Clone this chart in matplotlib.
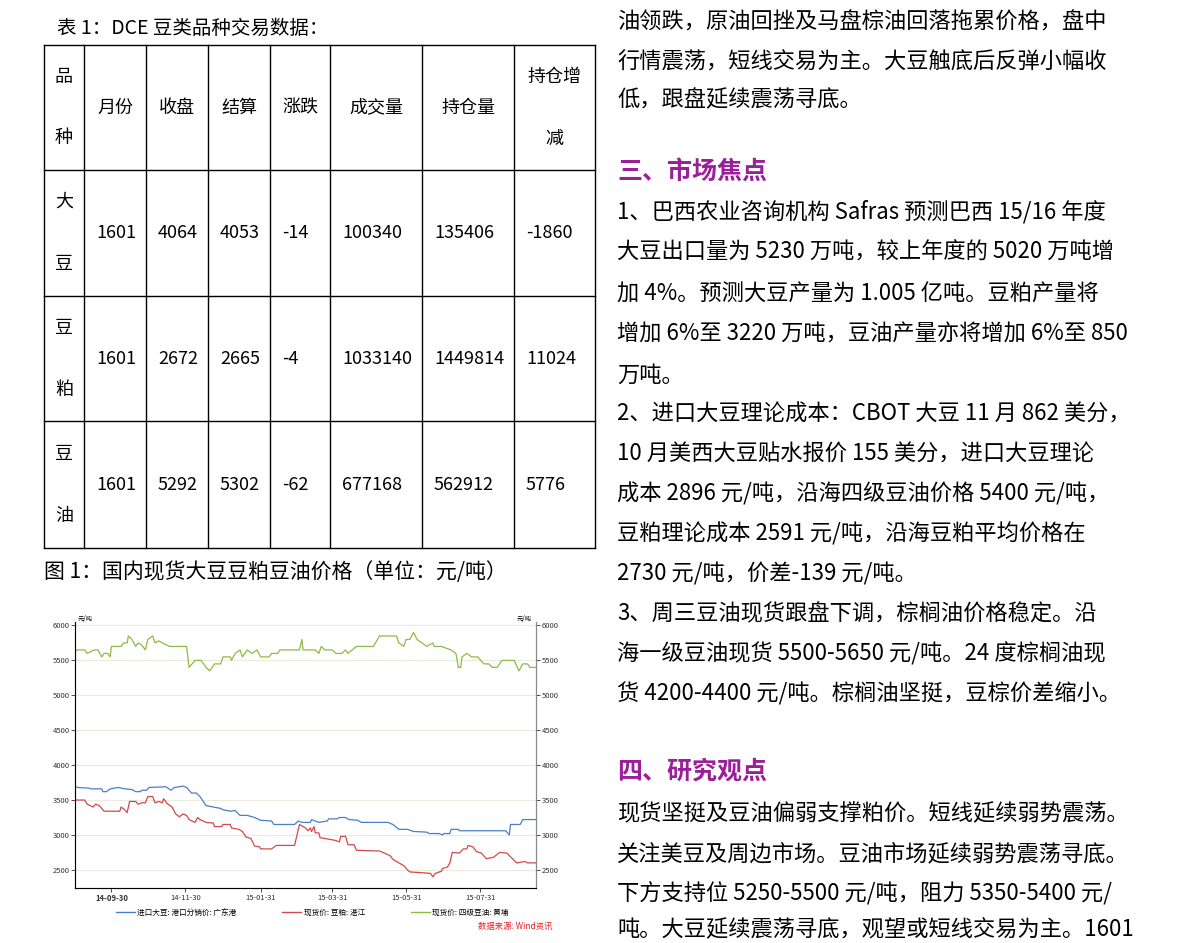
import matplotlib
matplotlib.use("Agg")
import matplotlib.pyplot as plt
import pandas as pd
from matplotlib.lines import Line2D

plt.rcParams['font.family'] = ['Noto Sans CJK SC', 'DejaVu Sans']

# ---------------- data ----------------
table_header = [("品", "种"), "月份", "收盘", "结算", "涨跌", "成交量", "持仓量", ("持仓增", "减")]
products = [("大", "豆"), ("豆", "粕"), ("豆", "油")]
months = ["1601", "1601", "1601"]
close = ["4064", "2672", "5292"]
settle = ["4053", "2665", "5302"]
change = ["-14", "-4", "-62"]
volume = ["100340", "1033140", "677168"]
open_int = ["135406", "1449814", "562912"]
oi_change = ["-1860", "11024", "5776"]

start_date = "2014-08-31"
soy_days = [0,2,12,13,22,23,26,29,36,41,47,50,54,55,59,61,75,79,82,86,89,92,96,100,103,108,114,120,122,128,132,136,142,148,153,162,164,181,184,187,194,195,201,208,209,216,218,223,226,233,236,258,262,267,274,279,290,292,300,303,304,309,310,316,317,355,358,359,367,369,380]
soy_vals = [3700,3680,3670,3660,3660,3620,3620,3660,3680,3660,3650,3620,3620,3640,3640,3680,3690,3640,3680,3690,3700,3680,3600,3600,3550,3420,3400,3380,3360,3340,3350,3280,3280,3250,3210,3200,3150,3150,3200,3180,3180,3220,3180,3200,3230,3230,3250,3250,3220,3210,3180,3180,3150,3080,3080,3050,3040,3020,3020,3000,3020,3020,3080,3080,3060,3060,3000,3150,3150,3220,3220]
meal_days = [0,8,10,15,17,20,22,24,37,38,41,43,45,50,52,55,58,60,64,66,69,72,73,76,80,83,86,89,92,94,99,101,103,108,114,115,121,122,128,129,135,138,141,145,148,152,153,162,166,181,183,185,190,192,194,195,197,198,201,202,206,215,218,219,223,225,230,232,251,255,260,262,267,271,274,276,285,293,295,297,302,303,307,309,311,317,320,323,324,328,331,335,339,345,350,356,360,364,371,373,380]
meal_vals = [3500,3500,3440,3400,3440,3420,3380,3340,3340,3400,3360,3320,3480,3480,3440,3460,3460,3550,3550,3460,3480,3460,3520,3450,3400,3300,3260,3300,3280,3220,3180,3250,3220,3180,3170,3120,3120,3150,3150,3100,3080,3050,2970,2950,2840,2830,2800,2800,2850,2850,3000,3150,3100,3060,3100,3050,3120,3030,3030,2960,2950,2920,2900,2980,2980,2860,2860,2780,2770,2740,2700,2650,2600,2560,2500,2470,2460,2450,2400,2450,2480,2520,2540,2600,2750,2740,2800,2800,2850,2830,2760,2740,2660,2680,2750,2740,2670,2600,2620,2600,2600]
oil_days = [0,1,8,10,16,19,22,24,27,29,30,38,40,43,44,47,50,52,55,58,60,64,66,69,72,78,92,94,99,104,108,111,115,120,122,128,129,132,136,138,142,146,150,153,160,162,167,169,185,187,188,198,201,203,206,212,215,220,223,225,232,246,251,265,267,271,273,276,279,282,286,290,295,296,302,310,314,316,318,319,323,327,332,337,341,344,348,352,362,366,369,373,375,380]
oil_vals = [5600,5650,5650,5600,5650,5650,5550,5600,5600,5550,5700,5700,5750,5750,5850,5800,5700,5750,5720,5650,5800,5850,5750,5780,5750,5700,5700,5400,5500,5500,5400,5350,5450,5450,5550,5550,5500,5600,5650,5550,5650,5600,5650,5550,5550,5600,5600,5650,5650,5800,5650,5650,5600,5700,5650,5650,5600,5600,5650,5600,5700,5700,5850,5850,5750,5700,5800,5800,5900,5800,5750,5700,5750,5700,5700,5650,5600,5400,5400,5550,5600,5550,5550,5450,5450,5400,5400,5500,5500,5350,5450,5450,5400,5400]
xtick_dates = ["2014-09-30", "2014-11-30", "2015-01-31", "2015-03-31", "2015-05-31", "2015-07-31"]
xtick_labels = ["14-09-30", "14-11-30", "15-01-31", "15-03-31", "15-05-31", "15-07-31"]
yticks = [2500, 3000, 3500, 4000, 4500, 5000, 5500, 6000]
legend_labels = ["进口大豆: 港口分销价: 广东港", "现货价: 豆粕: 湛江", "现货价: 四级豆油: 黄埔"]

right_lines = [
    "油领跌，原油回挫及马盘棕油回落拖累价格，盘中",
    "行情震荡，短线交易为主。大豆触底后反弹小幅收",
    "低，跟盘延续震荡寻底。",
    "三、市场焦点",
    "1、巴西农业咨询机构 Safras 预测巴西 15/16 年度",
    "大豆出口量为 5230 万吨，较上年度的 5020 万吨增",
    "加 4%。预测大豆产量为 1.005 亿吨。豆粕产量将",
    "增加 6%至 3220 万吨，豆油产量亦将增加 6%至 850",
    "万吨。",
    "2、进口大豆理论成本：CBOT 大豆 11 月 862 美分，",
    "10 月美西大豆贴水报价 155 美分，进口大豆理论",
    "成本 2896 元/吨，沿海四级豆油价格 5400 元/吨，",
    "豆粕理论成本 2591 元/吨，沿海豆粕平均价格在",
    "2730 元/吨，价差-139 元/吨。",
    "3、周三豆油现货跟盘下调，棕榈油价格稳定。沿",
    "海一级豆油现货 5500-5650 元/吨。24 度棕榈油现",
    "货 4200-4400 元/吨。棕榈油坚挺，豆棕价差缩小。",
    "四、研究观点",
    "现货坚挺及豆油偏弱支撑粕价。短线延续弱势震荡。",
    "关注美豆及周边市场。豆油市场延续弱势震荡寻底。",
    "下方支持位 5250-5500 元/吨，阻力 5350-5400 元/",
    "吨。大豆延续震荡寻底，观望或短线交易为主。1601",
]
right_y = [22,62,100,172,212,252,294,334,375,414,454,494,534,574,614,654,694,772,814,854,894,930]
headings = {"三、市场焦点", "四、研究观点"}

# ---------------- figure ----------------
W, H = 1191, 943
fig = plt.figure(figsize=(W/100, H/100), dpi=100)
fig.patch.set_facecolor("white")

def fx(x): return x / W
def fy(y): return 1 - y / H

fig.text(fx(57), fy(28), "表 1：DCE 豆类品种交易数据：", fontsize=14, va="center", ha="left")
fig.text(fx(44), fy(572), "图 1：国内现货大豆豆粕豆油价格（单位：元/吨）", fontsize=15, va="center", ha="left")

col_b = [44, 84, 146, 208, 270, 330, 422, 514, 595]
row_b = [45, 170, 296, 421, 548]
for x in col_b:
    fig.add_artist(Line2D([fx(x), fx(x)], [fy(row_b[0]), fy(row_b[-1])], color="black", lw=1))
for y in row_b:
    fig.add_artist(Line2D([fx(col_b[0]), fx(col_b[-1])], [fy(y), fy(y)], color="black", lw=1))

def cell(ci, ri, txt):
    cx = (col_b[ci] + col_b[ci+1]) / 2
    cy = (row_b[ri] + row_b[ri+1]) / 2
    if isinstance(txt, tuple):
        fig.text(fx(cx), fy(cy - 31), txt[0], fontsize=13, ha="center", va="center")
        fig.text(fx(cx), fy(cy + 31), txt[1], fontsize=13, ha="center", va="center")
        return
    ha, x = "center", cx
    if ri > 0 and ci > 0:
        ha, x = "left", col_b[ci] + 12
    fig.text(fx(x), fy(cy), txt, fontsize=13, ha=ha, va="center")

for ci, t in enumerate(table_header):
    cell(ci, 0, t)
cols = [products, months, close, settle, change, volume, open_int, oi_change]
for ri in range(3):
    for ci, c in enumerate(cols):
        cell(ci, ri + 1, c[ri])

for txt, y in zip(right_lines, right_y):
    if txt in headings:
        fig.text(fx(617), fy(y), txt, fontsize=18, fontweight="bold", color="#9b1e9b", va="center", ha="left")
    else:
        fig.text(fx(617), fy(y), txt, fontsize=16, va="center", ha="left")

# chart
base = pd.Timestamp(start_date)
ax = fig.add_axes([fx(75), fy(888), fx(536 - 75), (888 - 622) / H])
soy_x = [base + pd.Timedelta(days=d) for d in soy_days]
meal_x = [base + pd.Timedelta(days=d) for d in meal_days]
oil_x = [base + pd.Timedelta(days=d) for d in oil_days]
ax.plot(soy_x, soy_vals, color="#4a7fc8", lw=0.9)
ax.plot(meal_x, meal_vals, color="#d04a4a", lw=0.9)
ax.plot(oil_x, oil_vals, color="#8fba45", lw=0.9)
ax.set_xlim(base, base + pd.Timedelta(days=380))
ax.set_ylim(2240, 6050)
ax.set_yticks(yticks)
ax.set_yticklabels([str(v) for v in yticks], fontsize=5.5)
ax.set_xticks([pd.Timestamp(d) for d in xtick_dates])
ax.set_xticklabels(xtick_labels, fontsize=5.5)
ax.get_xticklabels()[0].set_fontweight("bold")
ax.grid(axis="y", color="#ececdc", lw=0.8)
ax.spines["top"].set_visible(False)
for s in ["left", "right", "bottom"]:
    ax.spines[s].set_color("#888888")
ax.tick_params(length=3, width=0.6, colors="#333333", pad=1)
ax2 = ax.twinx()
ax2.set_ylim(ax.get_ylim())
ax2.set_yticks(yticks)
ax2.set_yticklabels([str(v) for v in yticks], fontsize=5.5)
ax2.spines["top"].set_visible(False)
ax2.spines["right"].set_color("#888888")
ax2.tick_params(length=3, width=0.6, colors="#333333", pad=1)
fig.text(fx(78), fy(619), "元/吨", fontsize=4.5, ha="left", va="center")
fig.text(fx(532), fy(619), "元/吨", fontsize=4.5, ha="right", va="center")

handles = [Line2D([], [], color=c, lw=1) for c in ["#4a7fc8", "#d04a4a", "#8fba45"]]
fig.legend(handles, legend_labels, loc="center", bbox_to_anchor=(fx(312), fy(913)), ncol=3,
           fontsize=5.5, frameon=False, handlelength=2.5, columnspacing=6, handletextpad=0.3,
           borderpad=0)
fig.text(fx(553), fy(926), "数据来源: Wind资讯", fontsize=6, color="#e8202a", style="italic", ha="right", va="center")

fig.savefig("out.png", dpi=100, facecolor="white")
